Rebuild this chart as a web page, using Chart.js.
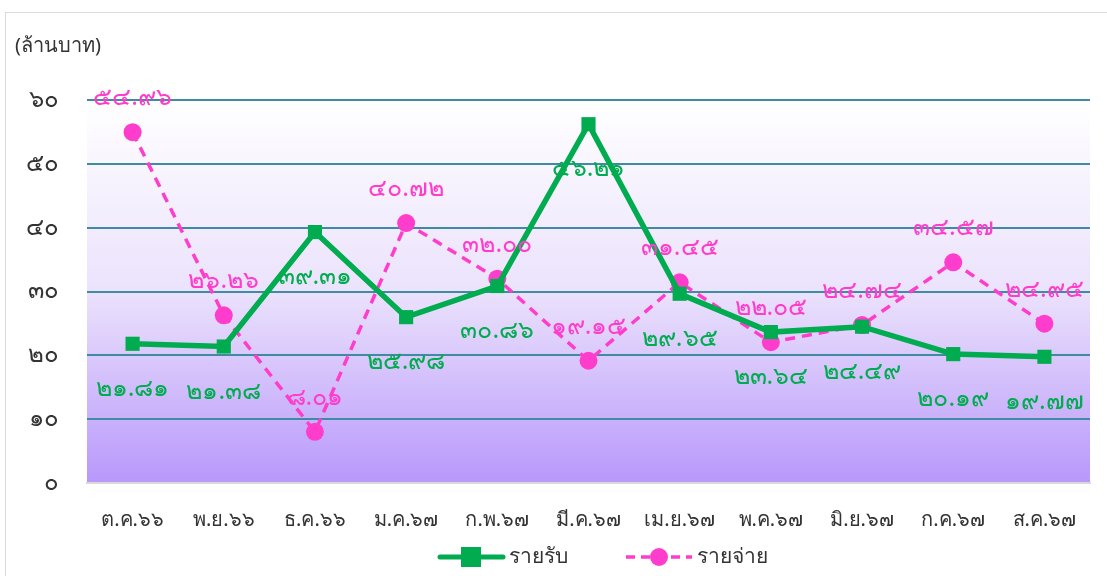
<!DOCTYPE html>
<html>
<head>
<meta charset="utf-8">
<script src="https://cdn.jsdelivr.net/npm/chart.js@4.4.1/dist/chart.umd.min.js"></script>
<style>
  html, body { margin: 0; padding: 0; background: #fff; }
  .wrap { position: relative; width: 1107px; height: 576px; }
  .frame { position: absolute; left: 5px; top: 12px; width: 1110px; height: 580px; border: 1px solid #d9d9d9; box-sizing: border-box; pointer-events: none; }
</style>
</head>
<body>
<div class="wrap">
  <canvas id="c" width="1107" height="576"></canvas>
  <div class="frame"></div>
</div>
<script>
// ─── Data ───────────────────────────────────────────────────
const months = ['ต.ค.๖๖', 'พ.ย.๖๖', 'ธ.ค.๖๖', 'ม.ค.๖๗', 'ก.พ.๖๗', 'มี.ค.๖๗',
                'เม.ย.๖๗', 'พ.ค.๖๗', 'มิ.ย.๖๗', 'ก.ค.๖๗', 'ส.ค.๖๗'];
const income  = [21.81, 21.38, 39.31, 25.98, 30.86, 56.21, 29.65, 23.64, 24.49, 20.19, 19.77];
const expense = [54.96, 26.26, 8.01, 40.72, 32.00, 19.15, 31.45, 22.05, 24.74, 34.57, 24.95];
const seriesNames = ['รายรับ', 'รายจ่าย'];
const unitLabel = '(ล้านบาท)';

const GREEN = '#00ac4f';
const PINK = '#ff3dcc';
const GRID = '#3f8ca2';
const FONT = "Tahoma, 'Noto Sans', 'DejaVu Sans', sans-serif";

const thaiDigits = '๐๑๒๓๔๕๖๗๘๙';
const toThai = s => String(s).replace(/[0-9]/g, d => thaiDigits[d]);

// ─── Plugins ────────────────────────────────────────────────
const bgPlugin = {
    id: 'bg',
    beforeDraw(chart) {
        const { ctx, chartArea: a } = chart;
        const g = ctx.createLinearGradient(0, a.top, 0, a.bottom);
        g.addColorStop(0, '#ffffff');
        g.addColorStop(0.5, '#ebe2fc');
        g.addColorStop(1, '#b898fb');
        ctx.save();
        ctx.fillStyle = g;
        ctx.fillRect(a.left, a.top, a.right - a.left, a.bottom - a.top);
        ctx.restore();
    }
};

const labelPlugin = {
    id: 'vlabels',
    afterDatasetsDraw(chart) {
        const { ctx } = chart;
        ctx.save();
        ctx.font = '25px ' + FONT;
        ctx.textAlign = 'center';
        ctx.textBaseline = 'middle';
        chart.data.datasets.forEach((ds, i) => {
            const meta = chart.getDatasetMeta(i);
            meta.data.forEach((pt, j) => {
                const txt = toThai(ds.data[j].toFixed(2));
                const y = i === 0 ? pt.y + 45 : pt.y - 34;
                ctx.fillStyle = ds.borderColor;
                ctx.fillText(txt, pt.x, y);
            });
        });
        ctx.restore();
    }
};

const extraPlugin = {
    id: 'extra',
    afterDraw(chart) {
        const { ctx } = chart;
        ctx.save();
        // unit label
        ctx.font = '20px ' + FONT;
        ctx.fillStyle = '#333';
        ctx.textAlign = 'left';
        ctx.textBaseline = 'middle';
        ctx.fillText(unitLabel, 15, 46);

        // legend
        const ly = 557;
        ctx.font = '21px ' + FONT;
        // income
        ctx.strokeStyle = GREEN; ctx.lineWidth = 5; ctx.lineCap = 'round';
        ctx.beginPath(); ctx.moveTo(440, ly); ctx.lineTo(503, ly); ctx.stroke();
        ctx.fillStyle = GREEN; ctx.fillRect(461, ly - 10, 20, 20);
        ctx.fillStyle = '#333'; ctx.fillText(seriesNames[0], 509, ly);
        // expense
        ctx.strokeStyle = PINK; ctx.lineWidth = 3.5; ctx.lineCap = 'butt';
        ctx.setLineDash([9, 6]);
        ctx.beginPath(); ctx.moveTo(626, ly); ctx.lineTo(692, ly); ctx.stroke();
        ctx.setLineDash([]);
        ctx.fillStyle = PINK; ctx.beginPath(); ctx.arc(659, ly, 9, 0, Math.PI * 2); ctx.fill();
        ctx.fillStyle = '#333'; ctx.fillText(seriesNames[1], 697, ly);
        ctx.restore();
    }
};

// ─── Chart ──────────────────────────────────────────────────
new Chart(document.getElementById('c'), {
    type: 'line',
    data: {
        labels: months,
        datasets: [
            {
                label: seriesNames[0], data: income,
                borderColor: GREEN, backgroundColor: GREEN, borderWidth: 5.5,
                pointStyle: 'rect', pointRadius: 10, pointBackgroundColor: GREEN,
                pointBorderWidth: 0, tension: 0
            },
            {
                label: seriesNames[1], data: expense,
                borderColor: PINK, backgroundColor: PINK, borderWidth: 3.5,
                borderDash: [10, 7],
                pointStyle: 'circle', pointRadius: 9, pointBackgroundColor: PINK,
                pointBorderWidth: 0, tension: 0
            }
        ]
    },
    options: {
        responsive: false, animation: false,
        layout: { padding: { top: 100, right: 17, left: 0, bottom: 0 } },
        plugins: { legend: { display: false }, tooltip: { enabled: false } },
        scales: {
            x: {
                offset: true,
                grid: { display: false, drawTicks: false },
                border: { color: '#d9d9d9', width: 2 },
                ticks: { color: '#333', font: { family: FONT, size: 20 }, padding: 25, maxRotation: 0, autoSkip: false },
                afterFit: s => { s.height = 93; }
            },
            y: {
                min: 0, max: 60,
                grid: { color: GRID, lineWidth: 2, drawTicks: false },
                border: { display: false },
                ticks: { stepSize: 10, color: '#333', font: { family: FONT, size: 24 }, padding: 28,
                         callback: v => toThai(v) },
                afterFit: s => { s.width = 87; }
            }
        }
    },
    plugins: [bgPlugin, labelPlugin, extraPlugin]
});
</script>
</body>
</html>
